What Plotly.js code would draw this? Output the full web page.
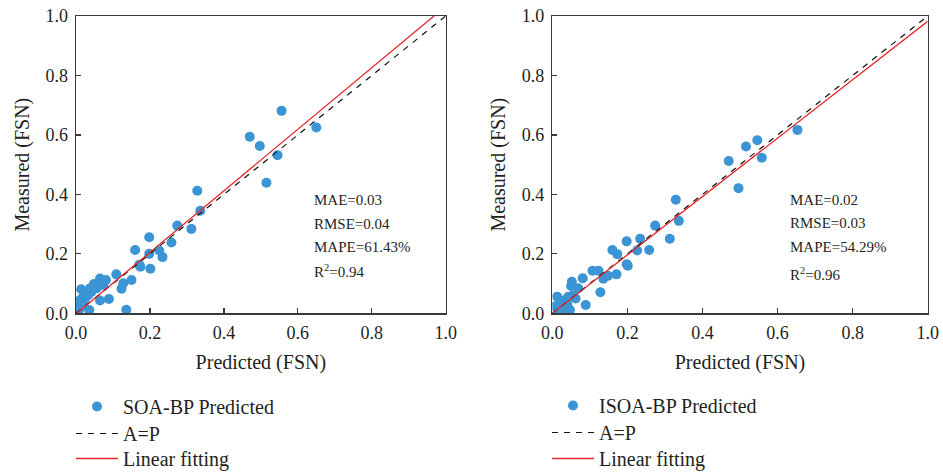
<!DOCTYPE html>
<html><head><meta charset="utf-8">
<script src="https://cdn.plot.ly/plotly-3.0.1.min.js"></script>
<style>html,body{margin:0;padding:0;background:#fff}#c{width:943px;height:475px}</style>
</head><body><div id="c"></div>
<script>
const soaPred = [0.556,0.650,0.470,0.497,0.545,0.515,0.328,0.336,0.274,0.312,0.198,0.258,0.160,0.198,0.225,0.234,0.171,0.174,0.201,0.109,0.150,0.128,0.123,0.136,0.089,0.065,0.065,0.081,0.049,0.014,0.036,0.038,0.029,0.020,0.011,0.006,0.002,0.042,0.056,0.074,0.024,0.015,0.033,0.060,0.008,0.020];
const soaMeas = [0.681,0.625,0.594,0.563,0.532,0.439,0.412,0.345,0.295,0.284,0.256,0.238,0.213,0.200,0.211,0.189,0.163,0.157,0.150,0.131,0.112,0.101,0.083,0.012,0.048,0.043,0.117,0.112,0.099,0.081,0.011,0.084,0.067,0.056,0.045,0.028,0.017,0.073,0.084,0.095,0.050,0.033,0.062,0.100,0.010,0.025];
const isoaPred = [0.653,0.546,0.516,0.558,0.470,0.496,0.329,0.337,0.274,0.313,0.198,0.234,0.160,0.173,0.226,0.258,0.198,0.201,0.107,0.123,0.136,0.148,0.171,0.128,0.089,0.081,0.052,0.050,0.069,0.062,0.013,0.047,0.043,0.034,0.020,0.007,0.030,0.015,0.055,0.025,0.040];
const isoaMeas = [0.617,0.582,0.561,0.523,0.512,0.421,0.382,0.311,0.295,0.251,0.242,0.251,0.213,0.199,0.211,0.213,0.165,0.160,0.143,0.143,0.116,0.126,0.131,0.071,0.028,0.118,0.106,0.092,0.084,0.050,0.056,0.011,0.056,0.045,0.034,0.023,0.017,0.010,0.060,0.040,0.030];
const lineX = [0, 1];
const apY = [0, 1];
const soaFitY = [-0.002, 1.033];
const isoaFitY = [0.0, 0.982];
const soaStats = ["MAE=0.03", "RMSE=0.04", "MAPE=61.43%", "R<sup>2</sup>=0.94"];
const isoaStats = ["MAE=0.02", "RMSE=0.03", "MAPE=54.29%", "R<sup>2</sup>=0.96"];
const soaStatY = [0.382, 0.301, 0.223, 0.142];
const isoaStatY = [0.381, 0.303, 0.223, 0.132];

const FONT = "Liberation Serif";
const dotColor = "#3b94d3";
const txt = "#231f20";

const traces = [
  {x: soaPred, y: soaMeas, type: "scatter", mode: "markers", name: "SOA-BP Predicted",
   marker: {color: dotColor, size: 10}, xaxis: "x", yaxis: "y", legend: "legend"},
  {x: lineX, y: apY, type: "scatter", mode: "lines", name: "A=P",
   line: {color: "#111", width: 1.2, dash: "6px,6px"}, xaxis: "x", yaxis: "y", legend: "legend2"},
  {x: lineX, y: soaFitY, type: "scatter", mode: "lines", name: "Linear fitting",
   line: {color: "#e8262a", width: 1.3}, xaxis: "x", yaxis: "y", legend: "legend3"},
  {x: isoaPred, y: isoaMeas, type: "scatter", mode: "markers", name: "ISOA-BP Predicted",
   marker: {color: dotColor, size: 10}, xaxis: "x2", yaxis: "y2", legend: "legend4"},
  {x: lineX, y: apY, type: "scatter", mode: "lines", name: "A=P",
   line: {color: "#111", width: 1.2, dash: "6px,6px"}, xaxis: "x2", yaxis: "y2", legend: "legend5"},
  {x: lineX, y: isoaFitY, type: "scatter", mode: "lines", name: "Linear fitting",
   line: {color: "#e8262a", width: 1.3}, xaxis: "x2", yaxis: "y2", legend: "legend6"}
];

function ax(domain, anchor, title, standoff) {
  return {
    domain: domain, anchor: anchor, range: [0, 1], dtick: 0.2, tick0: 0,
    tickformat: ".1f", showgrid: false, zeroline: false, automargin: true,
    showline: true, linecolor: "#3a3a3a", linewidth: 1.5, mirror: true,
    ticks: "inside", ticklen: 5, tickwidth: 1.2, tickcolor: "#3a3a3a",
    ticklabelstandoff: 3,
    tickfont: {family: FONT, size: 18, color: txt},
    title: {text: title, font: {family: FONT, size: 20, color: txt}, standoff: standoff},
    fixedrange: true
  };
}

const annotations = [];
soaStats.forEach((t, i) => annotations.push({x: 0.637, y: soaStatY[i], xref: "x", yref: "y",
  text: t, showarrow: false, xanchor: "left", yanchor: "middle",
  font: {family: FONT, size: 15, color: txt}}));
isoaStats.forEach((t, i) => annotations.push({x: 0.627, y: isoaStatY[i], xref: "x2", yref: "y2",
  text: t, showarrow: false, xanchor: "left", yanchor: "middle",
  font: {family: FONT, size: 15, color: txt}}));

const legFont = {family: FONT, size: 20, color: txt};
function leg(xpx, ytop) {
  return {x: xpx/943, y: 1 - ytop/475, xanchor: "left", yanchor: "top", xref: "paper", yref: "paper",
    font: legFont, itemwidth: 42, bgcolor: "rgba(0,0,0,0)"};
}
const layout = {
  width: 943, height: 475,
  margin: {l: 0, r: 0, t: 0, b: 0, autoexpand: false},
  font: {family: FONT, color: txt},
  paper_bgcolor: "#fff", plot_bgcolor: "#fff",
  showlegend: true,
  xaxis: ax([0.0806, 0.4727], "y", "Predicted (FSN)", 12),
  yaxis: ax([0.3404, 0.9663], "x", "Measured (FSN)", 10),
  xaxis2: ax([0.5857, 0.9838], "y2", "Predicted (FSN)", 12),
  yaxis2: ax([0.3404, 0.9663], "x2", "Measured (FSN)", 10),
  legend: leg(71, 387), legend2: leg(71, 414), legend3: leg(71, 439),
  legend4: leg(547, 386), legend5: leg(547, 413), legend6: leg(547, 439),
  annotations: annotations
};

Plotly.newPlot("c", traces, layout, {displayModeBar: false, staticPlot: true});
</script></body></html>
